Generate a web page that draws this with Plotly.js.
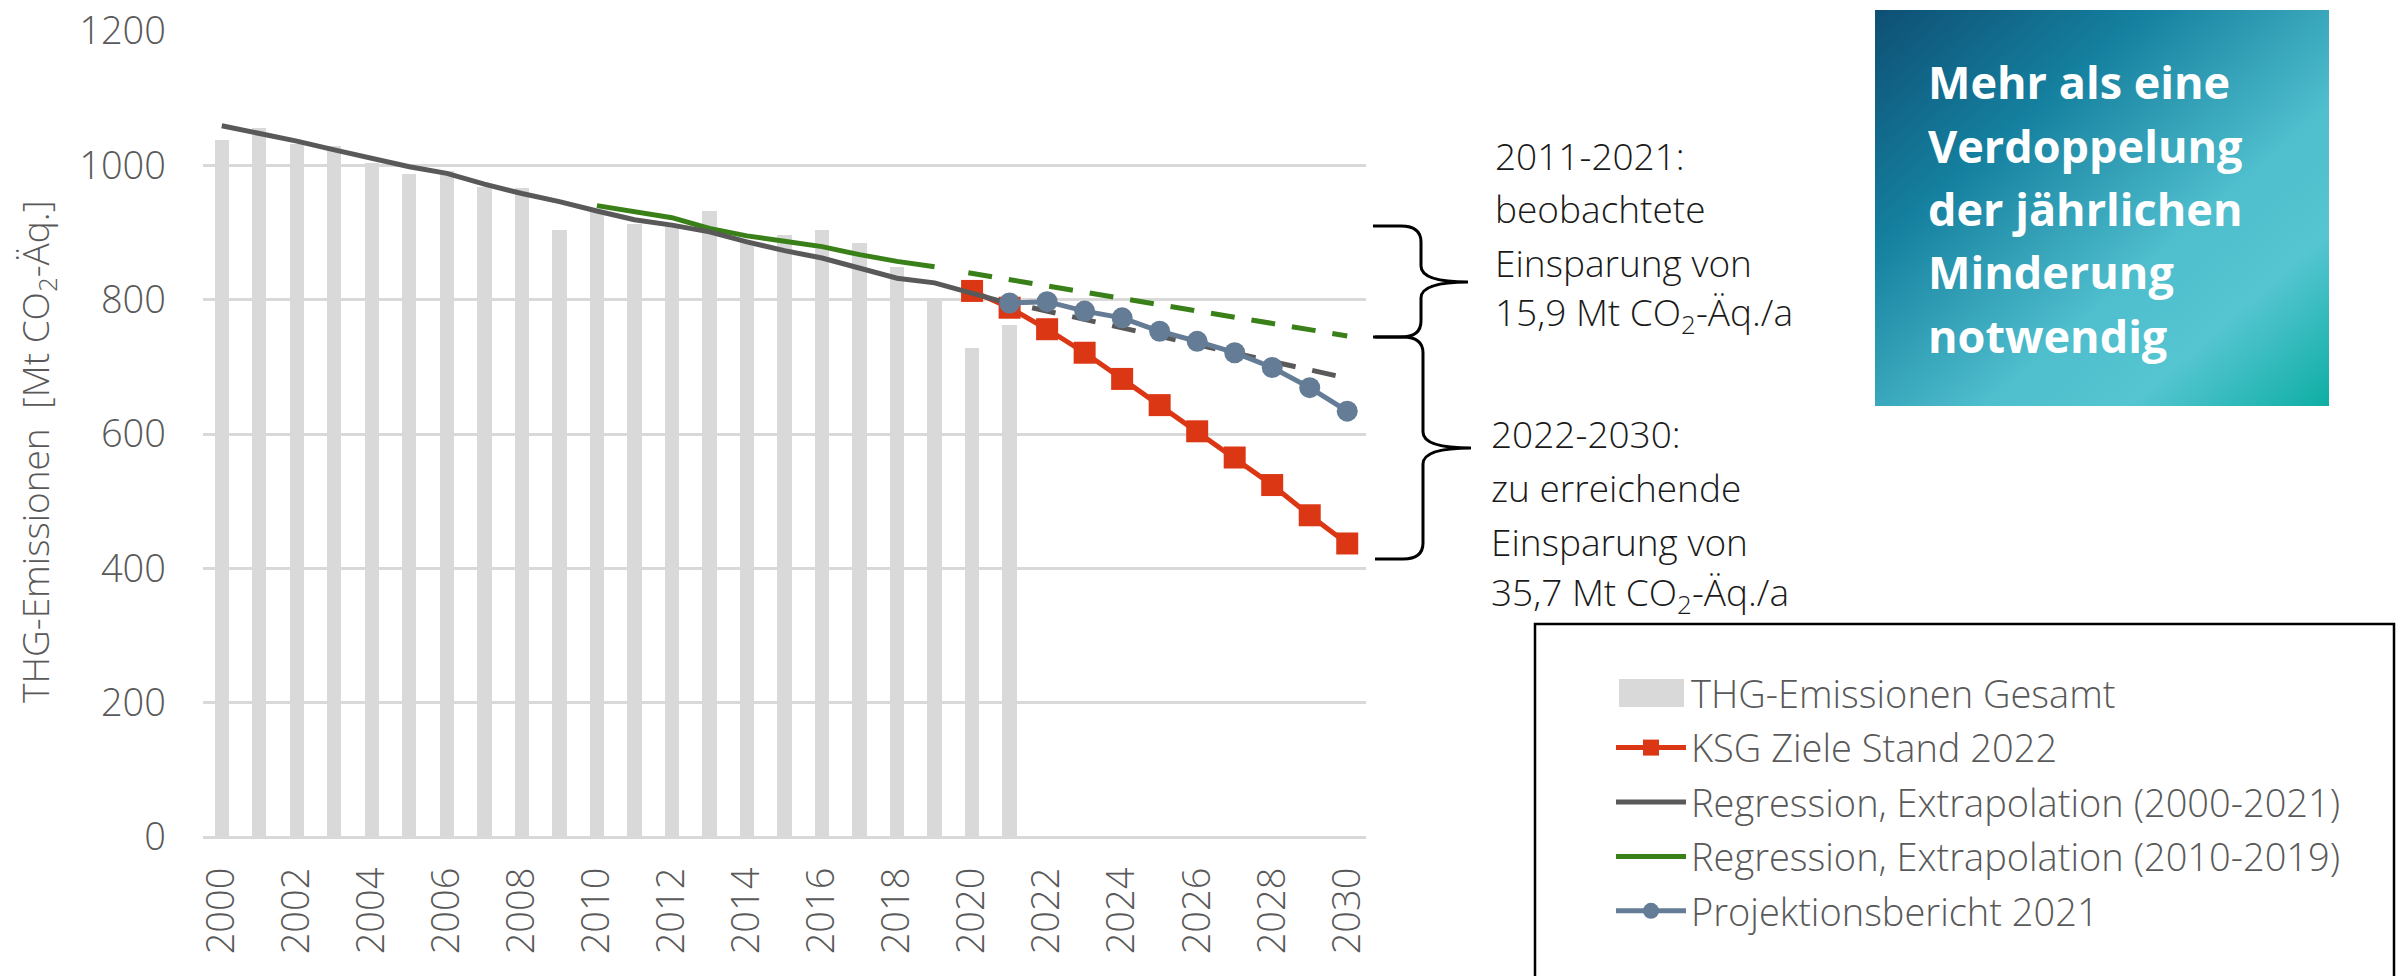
<!DOCTYPE html>
<html>
<head>
<meta charset="utf-8">
<script src="https://cdn.plot.ly/plotly-3.0.1.min.js"></script>
<style>
  html, body { margin: 0; padding: 0; background: #ffffff; }
  #chart { width: 2399px; height: 976px; }
</style>
</head>
<body>
<div id="chart"></div>
<script>
// ---------------- data ----------------
const barYears = [2000, 2001, 2002, 2003, 2004, 2005, 2006, 2007, 2008, 2009, 2010,
                  2011, 2012, 2013, 2014, 2015, 2016, 2017, 2018, 2019, 2020, 2021];
const thgGesamt = [1037, 1055, 1032, 1029, 1004, 987, 992, 968, 967, 904, 931,
                   912, 910, 932, 888, 896, 903, 885, 849, 800, 728, 763];

const reg0021Years = [2000, 2001, 2002, 2003, 2004, 2005, 2006, 2007, 2008, 2009, 2010,
                      2011, 2012, 2013, 2014, 2015, 2016, 2017, 2018, 2019, 2020, 2021];
const reg0021 = [1059, 1048, 1036, 1023, 1011, 998, 988, 972, 958, 946, 932,
                 919, 911, 901, 886, 873, 862, 847, 832, 825, 810, 794];
const reg0021ExtYears = [2021.6, 2030];
const reg0021Ext = [788, 683];

const reg1019Years = [2010, 2011, 2012, 2013, 2014, 2015, 2016, 2017, 2018, 2019];
const reg1019 = [940, 931, 922, 906, 895, 887, 879, 867, 857, 849];
const reg1019ExtYears = [2019.9, 2030];
const reg1019Ext = [840, 746];

const ksgYears = [2020, 2021, 2022, 2023, 2024, 2025, 2026, 2027, 2028, 2029, 2030];
const ksgZiele = [813, 788, 756, 721, 682, 643, 604, 565, 524, 479, 437];

const projYears = [2021, 2022, 2023, 2024, 2025, 2026, 2027, 2028, 2029, 2030];
const projektion = [795, 797, 783, 773, 753, 738, 721, 699, 669, 634];

const xTickVals = [2000, 2002, 2004, 2006, 2008, 2010, 2012, 2014, 2016, 2018, 2020, 2022, 2024, 2026, 2028, 2030];
const xTickText = ['2000', '2002', '2004', '2006', '2008', '2010', '2012', '2014', '2016', '2018', '2020', '2022', '2024', '2026', '2028', '2030'];

const seriesNames = {
  bars: 'THG-Emissionen Gesamt',
  ksg: 'KSG Ziele Stand 2022',
  reg0021: 'Regression, Extrapolation (2000-2021)',
  reg1019: 'Regression, Extrapolation (2010-2019)',
  proj: 'Projektionsbericht 2021'
};

// ---------------- layout geometry (pixels) ----------------
const W = 2399, H = 976;
const PL = 203, PR = 1366, PT = 31, PB = 837;
const pw = PR - PL, ph = PB - PT;
const px = x => (x - PL) / pw;
const py = y => (PB - y) / ph;

const FONT = '"Open Sans", "Noto Sans", sans-serif';
const GREY_TXT = '#595959';

const cRed = '#DC3714', cGrey = '#595959', cGreen = '#3A8019', cBlue = '#647C95', cBar = '#D9D9D9';

const traces = [
  { type: 'bar', x: barYears, y: thgGesamt, name: seriesNames.bars, marker: { color: cBar },
    width: 0.38, legendgroup: 'g1', legendrank: 1, hoverinfo: 'skip' },
  { type: 'scatter', mode: 'lines+markers', x: ksgYears, y: ksgZiele, name: seriesNames.ksg,
    line: { color: cRed, width: 5 }, marker: { symbol: 'square', size: 22, color: cRed },
    legendgroup: 'g2', legendrank: 2 },
  { type: 'scatter', mode: 'lines', x: reg1019Years, y: reg1019, name: seriesNames.reg1019,
    line: { color: cGreen, width: 5 }, legendgroup: 'g4', legendrank: 4 },
  { type: 'scatter', mode: 'lines', x: reg1019ExtYears, y: reg1019Ext, name: seriesNames.reg1019,
    line: { color: cGreen, width: 5, dash: '24px,17px' }, legendgroup: 'g4', showlegend: false },
  { type: 'scatter', mode: 'lines', x: reg0021Years, y: reg0021, name: seriesNames.reg0021,
    line: { color: cGrey, width: 5 }, legendgroup: 'g3', legendrank: 3 },
  { type: 'scatter', mode: 'lines', x: reg0021ExtYears, y: reg0021Ext, name: seriesNames.reg0021,
    line: { color: cGrey, width: 5, dash: '24px,17px' }, legendgroup: 'g3', showlegend: false },
  { type: 'scatter', mode: 'lines+markers', x: projYears, y: projektion, name: seriesNames.proj,
    line: { color: cBlue, width: 5 }, marker: { symbol: 'circle', size: 21, color: cBlue },
    legendgroup: 'g5', legendrank: 5 }
];

// curly brace path in paper coordinates
function brace(x0, yTop, yBot, xv, xTip, yTip) {
  const r = 10;
  const P = (x, y) => px(x).toFixed(5) + ',' + py(y).toFixed(5);
  return 'M' + P(x0, yTop) +
    ' L' + P(xv - r * 2, yTop) +
    ' Q' + P(xv, yTop) + ' ' + P(xv, yTop + r * 1.6) +
    ' L' + P(xv, yTip - r * 1.6) +
    ' Q' + P(xv, yTip) + ' ' + P(xTip, yTip) +
    ' Q' + P(xv, yTip) + ' ' + P(xv, yTip + r * 1.6) +
    ' L' + P(xv, yBot - r * 1.6) +
    ' Q' + P(xv, yBot) + ' ' + P(xv - r * 2, yBot) +
    ' L' + P(x0, yBot);
}

const shapes = [
  { type: 'path', xref: 'paper', yref: 'paper', path: brace(1373, 226, 337, 1421, 1468, 282),
    line: { color: '#000000', width: 3 } },
  { type: 'path', xref: 'paper', yref: 'paper', path: brace(1375, 337, 559, 1423, 1471, 448),
    line: { color: '#000000', width: 3 } },
  { type: 'rect', xref: 'paper', yref: 'paper', x0: px(1535), x1: px(2394), y0: py(624), y1: py(985),
    line: { color: '#000000', width: 2.5 }, fillcolor: 'rgba(0,0,0,0)' },
  // wide legend swatch for the bar series (the Plotly bar icon sits inside it)
  { type: 'rect', xref: 'paper', yref: 'paper', x0: px(1619), x1: px(1684), y0: py(679), y1: py(707),
    line: { width: 0 }, fillcolor: cBar }
];

const gradSvg = "<svg xmlns='http://www.w3.org/2000/svg' width='454' height='396' viewBox='0 0 454 396' preserveAspectRatio='none'>" +
  "<defs><linearGradient id='g' x1='0' y1='0' x2='1' y2='1'>" +
  "<stop offset='0' stop-color='#0E4F74'/>" +
  "<stop offset='0.30' stop-color='#15809F'/>" +
  "<stop offset='0.62' stop-color='#4FBECD'/>" +
  "<stop offset='0.78' stop-color='#55C5D1'/>" +
  "<stop offset='1' stop-color='#0EAEA4'/>" +
  "</linearGradient></defs><rect width='454' height='396' fill='url(#g)'/></svg>";

const images = [{
  source: 'data:image/svg+xml;utf8,' + encodeURIComponent(gradSvg),
  xref: 'paper', yref: 'paper', x: px(1875), y: py(10), sizex: 454 / pw, sizey: 396 / ph,
  xanchor: 'left', yanchor: 'top', sizing: 'stretch', layer: 'above'
}];

const annotations = [];
function txt(text, x, y, opts) {
  annotations.push(Object.assign({
    text: text, xref: 'paper', yref: 'paper', x: px(x), y: py(y),
    xanchor: 'left', yanchor: 'middle', showarrow: false,
    font: { family: FONT, size: 37, color: '#1a1a1a', weight: 300 }
  }, opts || {}));
}
// y axis title
txt('THG-Emissionen  [Mt CO<sub>2</sub>-Äq.]', 37, 452,
    { textangle: -90, xanchor: 'center', font: { family: FONT, size: 37, color: GREY_TXT, weight: 300 } });

const block1 = ['2011-2021:', 'beobachtete', 'Einsparung von', '15,9 Mt CO<sub>2</sub>-Äq./a'];
const block1Y = [156, 208, 262, 314];
block1.forEach((t, i) => txt(t, 1493, block1Y[i]));
const block2 = ['2022-2030:', 'zu erreichende', 'Einsparung von', '35,7 Mt CO<sub>2</sub>-Äq./a'];
const block2Y = [433, 487, 541, 594];
block2.forEach((t, i) => txt(t, 1489, block2Y[i]));

const boxLines = ['Mehr als eine', 'Verdoppelung', 'der jährlichen', 'Minderung', 'notwendig'];
const boxY = [81, 145, 208, 271, 335];
boxLines.forEach((t, i) => txt(t, 1926, boxY[i], { font: { family: FONT, size: 45, color: '#ffffff', weight: 700 } }));

const layout = {
  width: W, height: H,
  margin: { l: PL, r: W - PR, t: PT, b: H - PB, pad: 0 },
  paper_bgcolor: '#ffffff', plot_bgcolor: '#ffffff',
  font: { family: FONT, color: GREY_TXT },
  showlegend: true,
  bargap: 0,
  xaxis: {
    type: 'linear', range: [1999.5, 2030.5], tickvals: xTickVals, ticktext: xTickText,
    tickangle: -90, showgrid: false, zeroline: false, showline: false, ticks: '',
    ticklabelstandoff: 22,
    tickfont: { family: FONT, size: 38, color: GREY_TXT, weight: 300 }
  },
  yaxis: {
    range: [0, 1200], dtick: 200, tick0: 0, showgrid: true, gridcolor: '#D9D9D9', gridwidth: 3,
    zeroline: true, zerolinecolor: '#D9D9D9', zerolinewidth: 3, showline: false, ticks: '',
    ticklabelstandoff: 36,
    tickfont: { family: FONT, size: 38, color: GREY_TXT, weight: 300 }
  },
  legend: {
    x: px(1611), y: py(662), xanchor: 'left', yanchor: 'top',
    bgcolor: 'rgba(0,0,0,0)', borderwidth: 0,
    traceorder: 'grouped', tracegroupgap: 2, itemwidth: 70,
    font: { family: FONT, size: 38, color: GREY_TXT, weight: 300 }
  },
  shapes: shapes,
  images: images,
  annotations: annotations
};

Plotly.newPlot('chart', traces, layout, { displayModeBar: false, staticPlot: true });
</script>
</body>
</html>
